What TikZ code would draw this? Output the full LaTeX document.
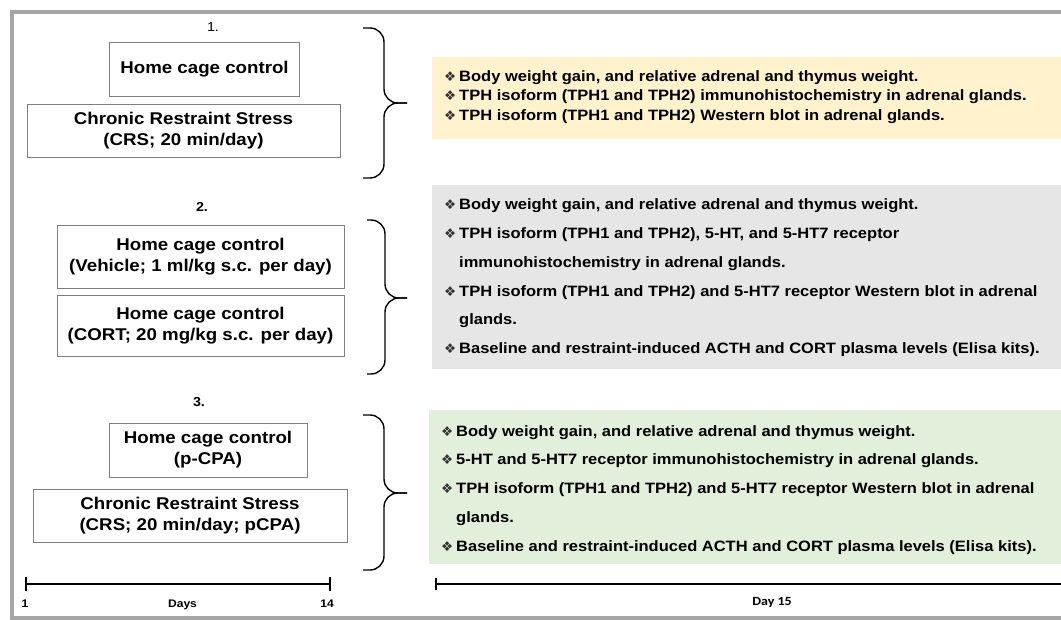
\documentclass[tikz,border=0pt]{standalone}
\usepackage{fontspec}
\setmainfont{Liberation Sans}[FakeStretch=1.1]
\newfontfamily\dayfont{Carlito}[FakeStretch=1.12]
\newfontfamily\symfont{DejaVu Sans}
\usetikzlibrary{positioning}

\definecolor{frameGray}{HTML}{A6A6A6}
\definecolor{boxGray}{HTML}{7F7F7F}
\definecolor{panelYellow}{HTML}{FFF2CC}
\definecolor{panelGray}{HTML}{E7E6E6}
\definecolor{panelGreen}{HTML}{E2EFDA}

% bullet and hanging indent for the outcome lists
\newcommand{\itm}{\makebox[15pt][l]{\symfont\fontsize{13.5}{14}\selectfont\color{black!80}\symbol{"2756}}}
\newcommand{\cnt}{\hspace*{15pt}}

\tikzset{
  frame/.style      = {draw=frameGray, line width=4pt},
  grpbox/.style     = {draw=boxGray, line width=0.9pt, align=center, inner sep=0pt,
                       font=\fontsize{17}{21}\selectfont\bfseries},
  grplabel/.style   = {inner sep=0pt, font=\fontsize{13}{13}\selectfont},
  panel/.style      = {anchor=north west, inner sep=0pt, minimum width=640pt},
  itemlist/.style   = {anchor=base west, align=left, inner sep=0pt},
  curly/.style      = {line width=1.4pt, rounded corners=14pt},
  axis/.style       = {line width=2.8pt},
  axislabel/.style  = {anchor=base, inner sep=0pt, font=\fontsize{11}{11}\selectfont\bfseries}
}

\begin{document}
\begin{tikzpicture}[x=1pt, y=-1pt]
  \useasboundingbox (0,0) rectangle (1061,620);
  \fill[white] (0,0) rectangle (1061,620);
  \draw[frame] (11.5,12.5) rectangle (1075,618);

  % 1. restraint stress groups
  \node[grplabel] (G1) at (213,27) {1.};
  \node[grpbox, minimum width=190pt, minimum height=54pt] (HC1) at (204.5,69) {Home cage control};
  \node[grpbox, minimum width=313pt, minimum height=53pt] (CRS1) at (183.5,130.5) {Chronic Restraint Stress\\(CRS; 20 min/day)};

  % 2. corticosterone groups
  \node[grplabel, font=\fontsize{13}{13}\selectfont\bfseries] (G2) at (202,207) {2.};
  \node[grpbox, minimum width=287pt, minimum height=63pt] (VEH2) at (200.5,256.5) {Home cage control\\(Vehicle; 1 ml/kg s.c. per day)};
  \node[grpbox, minimum width=287pt, minimum height=61pt] (CORT2) at (200.5,325.5) {Home cage control\\(CORT; 20 mg/kg s.c. per day)};

  % 3. p-CPA groups
  \node[grplabel, font=\fontsize{13}{13}\selectfont\bfseries] (G3) at (199,402) {3.};
  \node[grpbox, minimum width=198pt, minimum height=54pt] (HC3) at (208,450) {Home cage control\\(p-CPA)};
  \node[grpbox, minimum width=314pt, minimum height=53pt] (CRS3) at (190,515.5) {Chronic Restraint Stress\\(CRS; 20 min/day; pCPA)};

  % braces
  \coordinate (B1top) at (363,28);  \coordinate (B1tip) at (407,103); \coordinate (B1bot) at (363,178);
  \coordinate (B2top) at (367,220); \coordinate (B2tip) at (407,298); \coordinate (B2bot) at (367,374);
  \coordinate (B3top) at (363,415); \coordinate (B3tip) at (407,493); \coordinate (B3bot) at (363,570);
  \draw[curly] (B1top) -| ([xshift=-23pt]B1tip) -- (B1tip);
  \draw[curly] (B1bot) -| ([xshift=-23pt]B1tip) -- (B1tip);
  \draw[curly] (B2top) -| ([xshift=-22pt]B2tip) -- (B2tip);
  \draw[curly] (B2bot) -| ([xshift=-22pt]B2tip) -- (B2tip);
  \draw[curly] (B3top) -| ([xshift=-23pt]B3tip) -- (B3tip);
  \draw[curly] (B3bot) -| ([xshift=-23pt]B3tip) -- (B3tip);

  % outcome panels (lists are placed by the baseline of their last line)
  \node[panel, fill=panelYellow, minimum height=82pt]  (P1) at (432,57) {};
  \node[panel, fill=panelGray,   minimum height=184pt] (P2) at (432,185) {};
  \node[panel, fill=panelGreen,  minimum height=154pt] (P3) at (429,410) {};

  \node[itemlist, font=\fontsize{15}{19.5}\selectfont\bfseries] (L1) at ([xshift=12pt, yshift=-63.5pt]P1.north west) {%
    \itm Body weight gain, and relative adrenal and thymus weight.\\
    \itm TPH isoform (TPH1 and TPH2) immunohistochemistry in adrenal glands.\\
    \itm TPH isoform (TPH1 and TPH2) Western blot in adrenal glands.};
  \node[itemlist, font=\fontsize{15}{28.7}\selectfont\bfseries] (L2) at ([xshift=12pt, yshift=-168.5pt]P2.north west) {%
    \itm Body weight gain, and relative adrenal and thymus weight.\\
    \itm TPH isoform (TPH1 and TPH2), 5-HT, and 5-HT7 receptor\\
    \cnt immunohistochemistry in adrenal glands.\\
    \itm TPH isoform (TPH1 and TPH2) and 5-HT7 receptor Western blot in adrenal\\
    \cnt glands.\\
    \itm Baseline and restraint-induced ACTH and CORT plasma levels (Elisa kits).};
  \node[itemlist, font=\fontsize{15}{28.7}\selectfont\bfseries] (L3) at ([xshift=12pt, yshift=-141pt]P3.north west) {%
    \itm Body weight gain, and relative adrenal and thymus weight.\\
    \itm 5-HT and 5-HT7 receptor immunohistochemistry in adrenal glands.\\
    \itm TPH isoform (TPH1 and TPH2) and 5-HT7 receptor Western blot in adrenal\\
    \cnt glands.\\
    \itm Baseline and restraint-induced ACTH and CORT plasma levels (Elisa kits).};

  % time lines
  \coordinate (D1) at (26,584);
  \coordinate (D14) at (330,584);
  \coordinate (D15) at (436,584);
  \coordinate (Dend) at (1070,584);
  \draw[axis] (D1) -- (D14);
  \draw[axis] ([yshift=-7pt]D1) -- ([yshift=7pt]D1);
  \draw[axis] ([yshift=-7pt]D14) -- ([yshift=7pt]D14);
  \draw[axis] (D15) -- (Dend);
  \draw[axis] ([yshift=-6pt]D15) -- ([yshift=6pt]D15);

  \node[axislabel] (T1) at ([xshift=-1pt, yshift=-23pt]D1) {1};
  \node[axislabel] (Tdays) at (182.5,607) {Days};
  \node[axislabel] (T14) at ([xshift=-3pt, yshift=-23pt]D14) {14};
  \node[axislabel, font=\dayfont\fontsize{12.5}{12.5}\selectfont\bfseries] (T15) at (772,605) {Day 15};
\end{tikzpicture}
\end{document}
